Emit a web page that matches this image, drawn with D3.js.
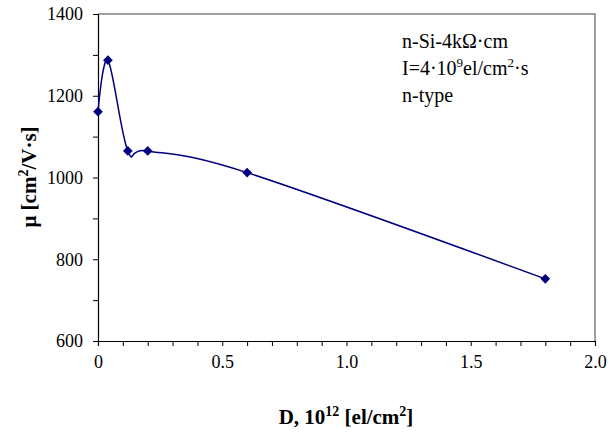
<!DOCTYPE html>
<html>
<head>
<meta charset="utf-8">
<script src="https://cdn.jsdelivr.net/npm/d3@7"></script>
<style>
  body { margin: 0; background: #fff; }
</style>
</head>
<body>
<svg id="chart"></svg>
<script>
const width = 610;
const height = 438;
const serif = "'Liberation Serif', 'Times New Roman', serif";

// data
const dose = [0, 0.04, 0.12, 0.2, 0.6, 1.8];
const mobility = [1161, 1287, 1065, 1065, 1012, 752];
const xTicks = [0, 0.5, 1.0, 1.5, 2.0];
const yTicks = [600, 800, 1000, 1200, 1400];
const notes = ["n-Si-4kΩ·cm", "I=4·10|9|el/cm|2|·s", "n-type"];

const margin = {top: 14, right: 15, bottom: 97, left: 98};

const svg = d3.select("#chart")
    .attr("width", width)
    .attr("height", height)
    .attr("font-family", serif);

const x = d3.scaleLinear()
    .domain([0, 2])
    .range([margin.left, width - margin.right]);

const y = d3.scaleLinear()
    .domain([600, 1400])
    .range([height - margin.bottom, margin.top]);

// frame: top and right in grey
svg.append("path")
    .attr("d", `M${x(0)},${y(1400)}H${x(2)}V${y(600)}`)
    .attr("fill", "none")
    .attr("stroke", "#808080")
    .attr("stroke-width", 1.5);

// x axis
const xAxis = svg.append("g")
    .attr("transform", `translate(0,${y(600)})`)
    .call(d3.axisBottom(x).tickValues(d3.range(0, 2.01, 0.1)).tickSize(5)
        .tickFormat(d => {
            const m = xTicks.find(t => Math.abs(t - d) < 1e-6);
            if (m === undefined) return "";
            return m === 0 ? "0" : d3.format(".1f")(m);
        }));
xAxis.attr("font-family", serif);
xAxis.select(".domain").attr("stroke", "#000").attr("stroke-width", 1.2);
xAxis.selectAll(".tick line").attr("stroke", "#000");
xAxis.selectAll("text")
    .attr("font-family", serif)
    .attr("font-size", 18)
    .attr("fill", "#000")
    .attr("dy", "1.05em");

// y axis
const yAxis = svg.append("g")
    .attr("transform", `translate(${x(0)},0)`)
    .call(d3.axisLeft(y).tickValues(d3.range(600, 1401, 100)).tickSize(5)
        .tickFormat(d => yTicks.includes(d) ? d : ""));
yAxis.attr("font-family", serif);
yAxis.select(".domain").attr("stroke", "#000").attr("stroke-width", 1.2);
yAxis.selectAll(".tick line").attr("stroke", "#000");
yAxis.selectAll("text")
    .attr("font-family", serif)
    .attr("font-size", 18)
    .attr("fill", "#000")
    .attr("x", -15);

// smoothed curve (Excel-like)
const line = d3.line()
    .x((d, i) => x(dose[i]))
    .y(d => y(d))
    .curve(d3.curveCatmullRom.alpha(0));

svg.append("path")
    .datum(mobility)
    .attr("d", line)
    .attr("fill", "none")
    .attr("stroke", "#000080")
    .attr("stroke-width", 1.5);

svg.selectAll(".pt")
    .data(mobility)
    .enter().append("path")
    .attr("class", "pt")
    .attr("d", d3.symbol(d3.symbolDiamond2, 60))
    .attr("transform", (d, i) => `translate(${x(dose[i])},${y(d)})`)
    .attr("fill", "#000080");

// annotation
notes.forEach((s, i) => {
    const t = svg.append("text")
        .attr("x", 402)
        .attr("y", 48 + i * 27)
        .attr("font-size", 20)
        .attr("fill", "#000");
    s.split("|").forEach((part, j) => {
        const sp = t.append("tspan").text(part);
        if (j % 2 === 1) sp.attr("font-size", 13).attr("dy", -8);
        else if (j > 0) sp.attr("dy", 8);
    });
});

// axis titles
const xt = svg.append("text")
    .attr("x", 346)
    .attr("y", 424)
    .attr("text-anchor", "middle")
    .attr("font-size", 21)
    .attr("font-weight", "bold");
xt.append("tspan").text("D, 10");
xt.append("tspan").text("12").attr("font-size", 14).attr("dy", -8);
xt.append("tspan").text(" [el/cm").attr("dy", 8);
xt.append("tspan").text("2").attr("font-size", 14).attr("dy", -8);
xt.append("tspan").text("]").attr("dy", 8);

const yt = svg.append("text")
    .attr("transform", `translate(36,177) rotate(-90)`)
    .attr("text-anchor", "middle")
    .attr("font-size", 21)
    .attr("font-weight", "bold");
yt.append("tspan").text("μ [cm");
yt.append("tspan").text("2").attr("font-size", 14).attr("dy", -8);
yt.append("tspan").text("/V·s]").attr("dy", 8);
</script>
</body>
</html>
